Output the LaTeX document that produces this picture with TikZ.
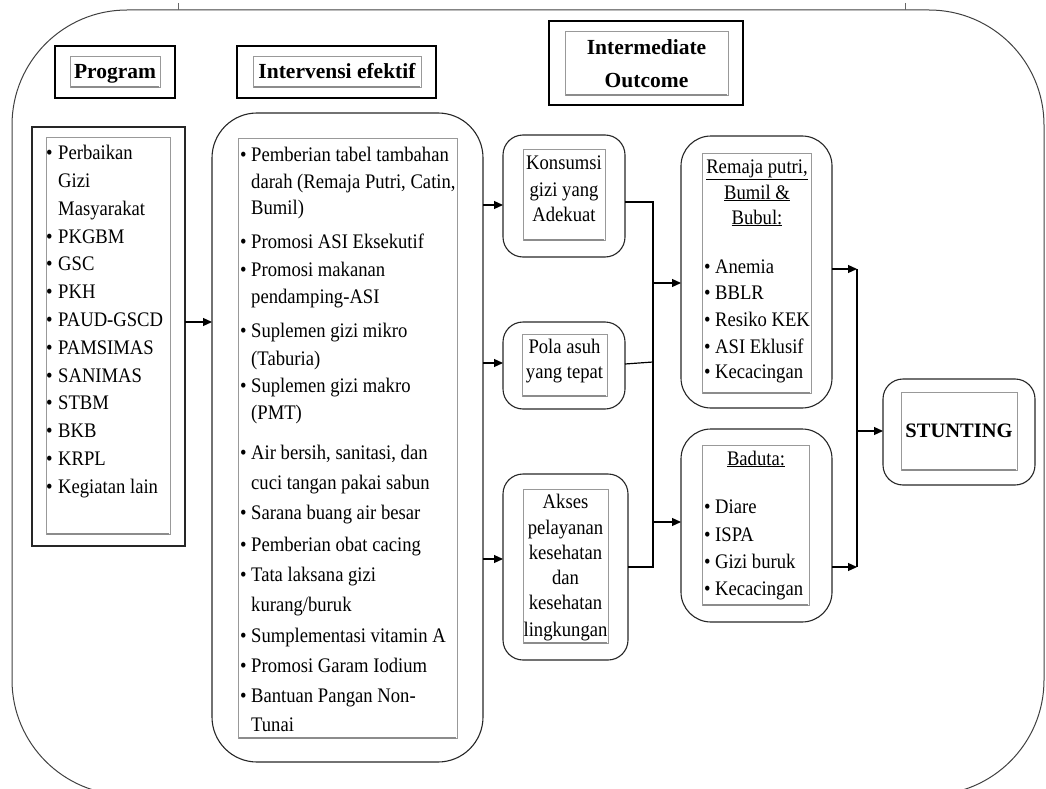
\documentclass[tikz,border=0pt]{standalone}
\usepackage{fontspec}
\setmainfont{Liberation Serif}
\newfontfamily\bodyfont{Liberation Serif}[FakeStretch=0.9]
\usetikzlibrary{arrows.meta,calc}
\newcommand\fs{\bodyfont\fontsize{20.7}{26}\selectfont}
\newcommand\fh{\fontsize{21.5}{28}\selectfont\bfseries}
\newcommand\bl{\makebox[11pt][l]{\textbullet}}
\newcommand\blp{\makebox[12pt][l]{\textbullet}}
\begin{document}
\begin{tikzpicture}[x=1pt,y=-1pt,
  box/.style={draw=black!85,line width=1.1pt,inner sep=0pt,outer sep=0pt},
  rbox/.style={box,rounded corners=#1},
  ibox/.style={draw=black!40,line width=0.9pt,inner sep=0pt,outer sep=0pt},
  hbox/.style={draw=black,line width=2.4pt,inner sep=0pt,outer sep=0pt},
  t/.style={font=\fs,inner sep=0pt,anchor=base west},
  tc/.style={font=\fs,inner sep=0pt,anchor=base},
  th/.style={font=\fh,inner sep=0pt,anchor=base},
  arr/.style={line width=1.2pt,-{Triangle[length=9pt,width=8pt]}},
  con/.style={line width=1.2pt},
  shadowline/.style={draw=black!45,line width=2.2pt}]
\useasboundingbox (0,0) rectangle (1046,789);
% outer frame
\draw[line width=1pt,black!75,rounded corners=115pt] (12,10) rectangle (1044,795);
\draw[black!60,line width=0.8pt] (178,3) -- (178,10);
\draw[black!60,line width=0.8pt] (905,3) -- (905,10);

% headers
\node[hbox,minimum width=120pt,minimum height=52pt] (hp) at (115,72) {};
\node[ibox,minimum width=90pt,minimum height=31pt] (hpi) at (115,71.5) {};
\node[th] (hpt) at (115,79) {Program};
\node[hbox,minimum width=199pt,minimum height=52pt] (hv) at (336.5,72) {};
\node[ibox,minimum width=168pt,minimum height=31pt] (hvi) at (337,71.5) {};
\node[th] (hvt) at (337,79) {Intervensi efektif};
\node[hbox,minimum width=194pt,minimum height=84pt] (ho) at (646,63) {};
\node[ibox,minimum width=163pt,minimum height=64pt] (hoi) at (646.5,63) {};
\node[th] (hot1) at (646.5,55) {Intermediate};
\node[th] (hot2) at (646.5,88) {Outcome};

% program list
\node[box,minimum width=153pt,minimum height=419pt] (prog) at (108.5,336.5) {};
\node[ibox,minimum width=124pt,minimum height=397pt] (progi) at (108,335.5) {};
\node[t] (p1) at (46,159) {\blp Perbaikan};
\node[t] (p2) at (58,187) {Gizi};
\node[t] (p3) at (58,215) {Masyarakat};
\node[t] (p4) at (46,243) {\blp PKGBM};
\node[t] (p5) at (46,270) {\blp GSC};
\node[t] (p6) at (46,298) {\blp PKH};
\node[t] (p7) at (46,326) {\blp PAUD-GSCD};
\node[t] (p8) at (46,354) {\blp PAMSIMAS};
\node[t] (p9) at (46,382) {\blp SANIMAS};
\node[t] (p10) at (46,409) {\blp STBM};
\node[t] (p11) at (46,437) {\blp BKB};
\node[t] (p12) at (46,465) {\blp KRPL};
\node[t] (p13) at (46,493) {\blp Kegiatan lain};

% intervensi list
\node[rbox=45pt,minimum width=271pt,minimum height=649pt] (iv) at (347.5,437.5) {};
\node[ibox,minimum width=219pt,minimum height=600pt] (ivi) at (347.5,438) {};
\node[t] (v1) at (240,161) {\bl Pemberian tabel tambahan};
\node[t] (v2) at (251,188) {darah (Remaja Putri, Catin,};
\node[t] (v3) at (251,214) {Bumil)};
\node[t] (v4) at (240,248) {\bl Promosi ASI Eksekutif};
\node[t] (v5) at (240,276) {\bl Promosi makanan};
\node[t] (v6) at (251,303) {pendamping-ASI};
\node[t] (v7) at (240,337) {\bl Suplemen gizi mikro};
\node[t] (v8) at (251,365) {(Taburia)};
\node[t] (v9) at (240,392) {\bl Suplemen gizi makro};
\node[t] (v10) at (251,419) {(PMT)};
\node[t] (v11) at (240,459) {\bl Air bersih, sanitasi, dan};
\node[t] (v12) at (251,489) {cuci tangan pakai sabun};
\node[t] (v13) at (240,519) {\bl Sarana buang air besar};
\node[t] (v14) at (240,551) {\bl Pemberian obat cacing};
\node[t] (v15) at (240,581) {\bl Tata laksana gizi};
\node[t] (v16) at (251,611) {kurang/buruk};
\node[t] (v17) at (240,642) {\bl Sumplementasi vitamin A};
\node[t] (v18) at (240,672) {\bl Promosi Garam Iodium};
\node[t] (v19) at (240,702) {\bl Bantuan Pangan Non-};
\node[t] (v20) at (251,731) {Tunai};

% middle boxes
\node[rbox=20pt,minimum width=122pt,minimum height=122pt] (kon) at (564,196) {};
\node[ibox,minimum width=82pt,minimum height=91pt] (koni) at (564,194.5) {};
\node[tc] (k1) at (564,169) {Konsumsi};
\node[tc] (k2) at (564,196) {gizi yang};
\node[tc] (k3) at (564,221) {Adekuat};

\node[rbox=20pt,minimum width=122pt,minimum height=87pt] (pola) at (564,365.5) {};
\node[ibox,minimum width=85pt,minimum height=62pt] (polai) at (564.5,365) {};
\node[tc] (q1) at (564.5,353) {Pola asuh};
\node[tc] (q2) at (564.5,378) {yang tepat};

\node[rbox=20pt,minimum width=125pt,minimum height=186pt] (akses) at (565.5,567) {};
\node[ibox,minimum width=85pt,minimum height=154pt] (aksesi) at (565.5,566) {};
\node[tc] (a1) at (565.5,508) {Akses};
\node[tc] (a2) at (565.5,534) {pelayanan};
\node[tc] (a3) at (565.5,559) {kesehatan};
\node[tc] (a4) at (565.5,584) {dan};
\node[tc] (a5) at (565.5,609) {kesehatan};
\node[tc] (a6) at (565.5,636) {lingkungan};

% right boxes
\node[rbox=30pt,minimum width=151pt,minimum height=272pt] (rem) at (756.5,272) {};
\node[ibox,minimum width=109pt,minimum height=240pt] (remi) at (756.5,273) {};
\node[tc] (r1) at (757,173) {\underline{Remaja putri,}};
\node[tc] (r2) at (757,199) {\underline{Bumil \&}};
\node[tc] (r3) at (757,224) {\underline{Bubul:}};
\node[t] (r4) at (704,273) {\bl Anemia};
\node[t] (r5) at (704,299) {\bl BBLR};
\node[t] (r6) at (704,326) {\bl Resiko KEK};
\node[t] (r7) at (704,353) {\bl ASI Eklusif};
\node[t] (r8) at (704,378) {\bl Kecacingan};

\node[rbox=30pt,minimum width=151pt,minimum height=193pt] (bad) at (756.5,525.5) {};
\node[ibox,minimum width=107pt,minimum height=160pt] (badi) at (755.5,525) {};
\node[tc] (b1) at (756,465) {\underline{Baduta:}};
\node[t] (b2) at (704,513) {\bl Diare};
\node[t] (b3) at (704,541) {\bl ISPA};
\node[t] (b4) at (704,568) {\bl Gizi buruk};
\node[t] (b5) at (704,595) {\bl Kecacingan};

\node[rbox=20pt,minimum width=152pt,minimum height=106pt] (stu) at (959,432) {};
\node[ibox,minimum width=116pt,minimum height=78pt] (stui) at (959,431) {};
\node[th,anchor=center,font=\fontsize{20.5}{24}\selectfont\bfseries] (st) at (959,431) {STUNTING};

% shadow lines under inner boxes
\foreach \n in {hpi,hvi,hoi,progi,ivi,koni,polai,aksesi,remi,badi,stui}
  \draw[shadowline] ([xshift=1pt]\n.south west) -- ([xshift=-1pt]\n.south east);

% connectors
\coordinate (c1) at (0,322);
\coordinate (c2) at (0,205);
\coordinate (c3) at (0,363);
\coordinate (c4) at (0,559);
\coordinate (c5) at (0,283);
\coordinate (c6) at (0,522);
\coordinate (c7) at (0,431);
\coordinate (c8) at (0,364);
\coordinate (busA) at (653,202);
\coordinate (busB) at (653,567);
\coordinate (busP) at (653,362);
\coordinate (busC) at (857,269);
\coordinate (busD) at (857,567);

\draw[arr] (prog.east|-c1) -- (iv.west|-c1);
\draw[arr] (iv.east|-c2) -- (kon.west|-c2);
\draw[arr] (iv.east|-c3) -- (pola.west|-c3);
\draw[arr] (iv.east|-c4) -- (akses.west|-c4);
\draw[con] (kon.east|-busA) -- (busA) -- (busB) -- (akses.east|-busB);
\draw[con] (pola.east|-c8) -- (busP);
\draw[arr] (busA|-c5) -- (rem.west|-c5);
\draw[arr] (busA|-c6) -- (bad.west|-c6);
\draw[arr] (rem.east|-busC) -- (busC);
\draw[arr] (bad.east|-busD) -- (busD);
\draw[con] (busC) -- (busD);
\draw[arr] (busC|-c7) -- (stu.west|-c7);
\end{tikzpicture}
\end{document}
